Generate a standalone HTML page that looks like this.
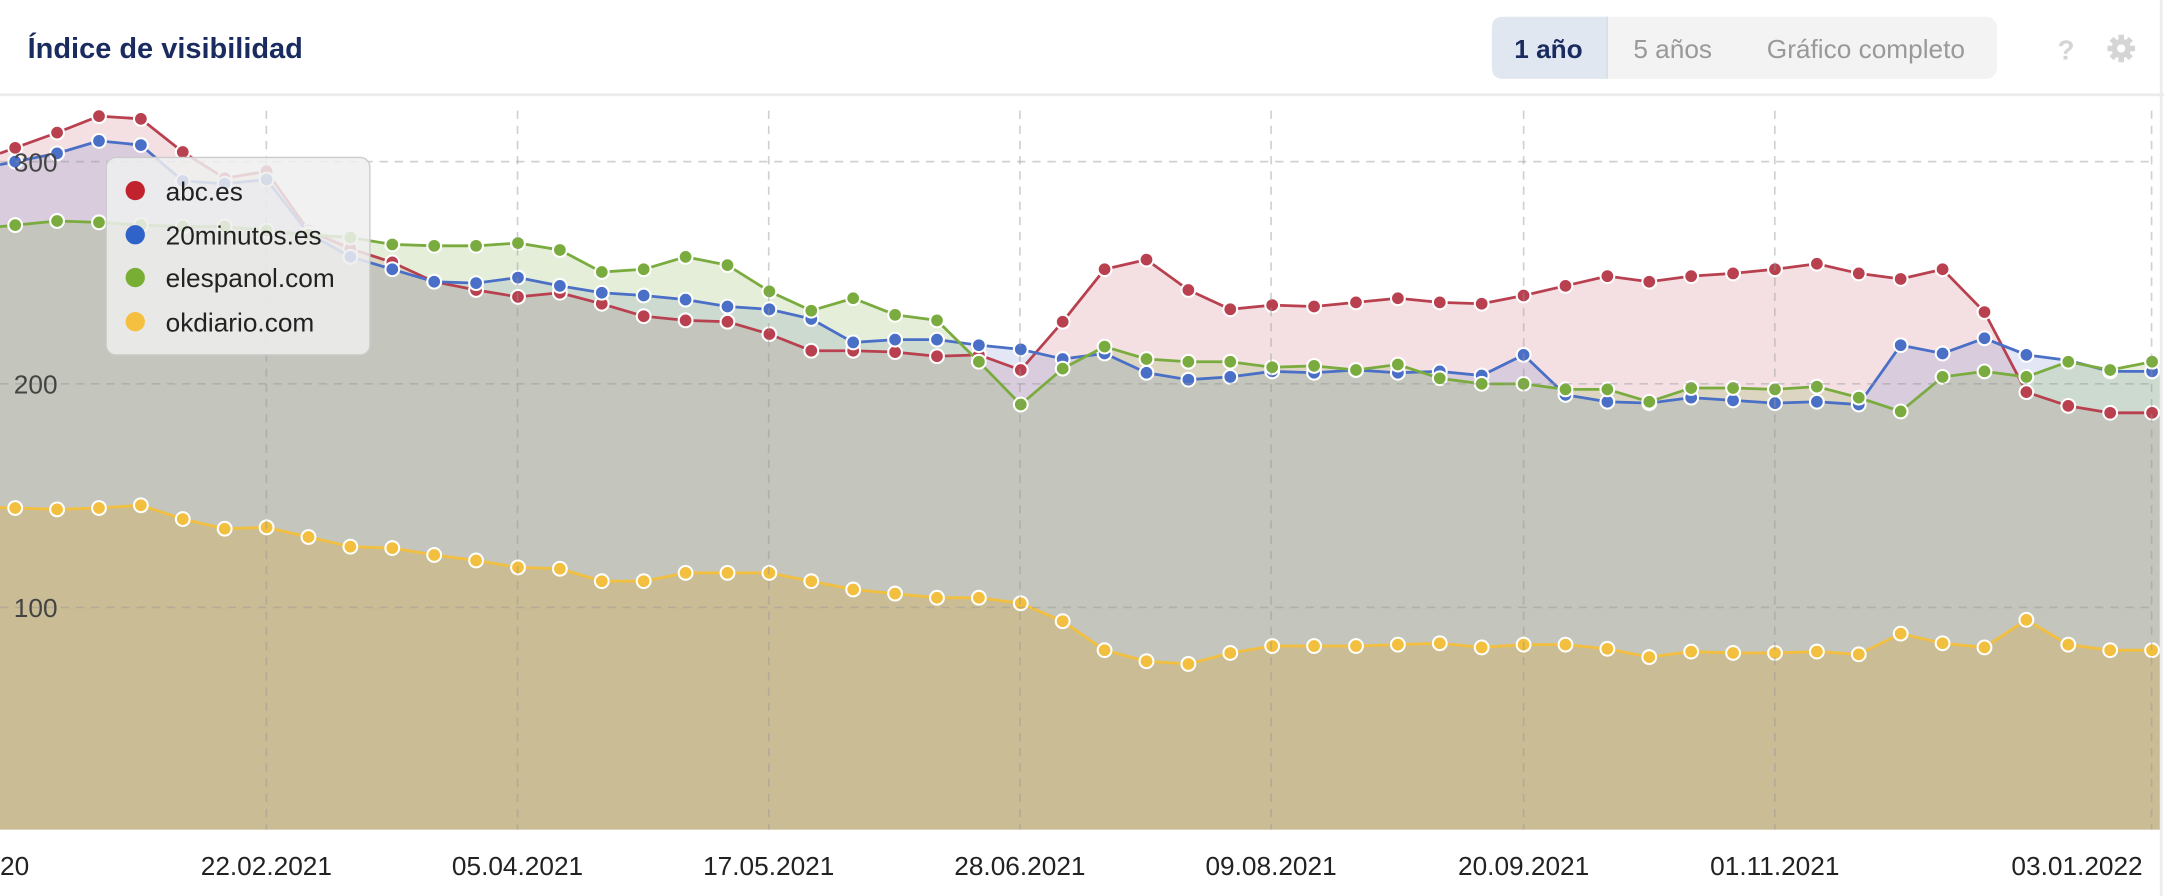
<!DOCTYPE html>
<html><head><meta charset="utf-8"><style>
html,body{margin:0;padding:0;background:#fff;}
svg{display:block;font-family:"Liberation Sans",sans-serif;}
</style></head><body>
<svg id="s" width="2164" height="896" viewBox="0 0 1568 649" xmlns="http://www.w3.org/2000/svg">
<rect width="1568" height="649" fill="#fff"/>
<text x="20" y="42" font-size="21" font-weight="bold" fill="#1a2b5f">Índice de visibilidad</text>
<rect x="1081" y="12" width="366" height="45" rx="8" fill="#f3f3f3"/>
<path d="M1089 12 H1164 V57 H1089 Q1081 57 1081 49 V20 Q1081 12 1089 12Z" fill="#e1e7f1"/>
<line x1="1164.5" y1="12" x2="1164.5" y2="57" stroke="#d5dae3"/>
<text x="1122" y="42" font-size="19" font-weight="bold" fill="#1a2b5f" text-anchor="middle">1 año</text>
<text x="1212" y="42" font-size="19" fill="#999" text-anchor="middle">5 años</text>
<text x="1352" y="42" font-size="19" fill="#999" text-anchor="middle">Gráfico completo</text>
<text x="1497" y="43" font-size="20" font-weight="bold" fill="#d5d5d5" text-anchor="middle">?</text>
<g transform="translate(1537,35)" fill="#d5d5d5"><circle r="7"/><g stroke="#d5d5d5" stroke-width="4"><line x1="0" y1="-10" x2="0" y2="10"/><line x1="-10" y1="0" x2="10" y2="0"/><line x1="-7" y1="-7" x2="7" y2="7"/><line x1="-7" y1="7" x2="7" y2="-7"/></g><circle r="3" fill="#fff"/></g>
<line x1="0" y1="68.5" x2="1568" y2="68.5" stroke="#ececec" stroke-width="2"/>
<g id="plot"></g>
<g id="grid" stroke="rgba(150,150,150,0.45)" stroke-width="1.2" stroke-dasharray="6,5"></g>
<line x1="1566" y1="0" x2="1566" y2="649" stroke="#ececec" stroke-width="2"/>
<g font-size="19" fill="#444">
<text x="10" y="124">300</text><text x="10" y="285">200</text><text x="10" y="447">100</text>
</g>
<g font-size="19" fill="#222" text-anchor="middle">
<text x="0" y="634" text-anchor="start">20</text>
<text x="193" y="634">22.02.2021</text><text x="375" y="634">05.04.2021</text><text x="557" y="634">17.05.2021</text>
<text x="739" y="634">28.06.2021</text><text x="921" y="634">09.08.2021</text><text x="1104" y="634">20.09.2021</text>
<text x="1286" y="634">01.11.2021</text><text x="1505" y="634">03.01.2022</text>
</g>
<g>
<rect x="77" y="114" width="191" height="143" rx="7" fill="rgba(238,238,238,0.85)" stroke="#ccc"/>
<circle cx="98" cy="138" r="7" fill="#c0232e"/><text x="120" y="145" font-size="19" fill="#222">abc.es</text>
<circle cx="98" cy="170" r="7" fill="#2f63c9"/><text x="120" y="177" font-size="19" fill="#222">20minutos.es</text>
<circle cx="98" cy="201" r="7" fill="#79ae34"/><text x="120" y="208" font-size="19" fill="#222">elespanol.com</text>
<circle cx="98" cy="233" r="7" fill="#f5c040"/><text x="120" y="240" font-size="19" fill="#222">okdiario.com</text>
</g>
</svg>
<script>
var NS="http://www.w3.org/2000/svg";
function el(p,t,a){var e=document.createElementNS(NS,t);for(var k in a)e.setAttribute(k,a[k]);p.appendChild(e);return e;}
var g=document.getElementById('grid'),p=document.getElementById('plot');
[117,278,440].forEach(function(y){el(g,'line',{x1:0,x2:1559,y1:y,y2:y});});
[193,375,557,739,921,1104,1286,1559].forEach(function(x){el(g,'line',{x1:x,x2:x,y1:80,y2:601});});
var R=[107,96,84,86,110,129,124,167,180,190,204,210,215,212,220,229,232,233,242,254,254,255,258,257,268,233,195,188,210,224,221,222,219,216,219,220,214,207,200,204,200,198,195,191,198,202,195,226,284,294,299,299];
var B=[117,111,102,105,131,133,130,169,186,195,204,205,201,207,212,214,217,222,224,231,248,246,246,250,253,260,256,270,275,273,269,270,268,270,269,272,257,286,291,292,288,290,292,291,293,250,256,245,257,261,269,269];
var G=[163,160,161,163,164,164,167,170,172,177,178,178,176,181,197,195,186,192,211,225,216,228,232,262,293,267,251,260,262,262,266,265,268,264,274,278,278,282,282,291,281,281,282,280,288,298,273,269,273,262,268,262];
var Y=[368,369,368,366,376,383,382,389,396,397,402,406,411,412,421,421,415,415,415,421,427,430,433,433,437,450,471,479,481,473,468,468,468,467,466,469,467,467,470,476,472,473,473,472,474,459,466,469,449,467,471,471];
var S=[[R,'#b8404f','rgba(184,60,80,0.16)'],[B,'#4a6fc6','rgba(74,100,190,0.16)'],[G,'#7aab3e','rgba(122,171,62,0.2)'],[Y,'#f2bf3e','rgba(215,170,60,0.3)']];
function X(i){return 11+30.36*i;}
S.forEach(function(s){var a=s[0];var y0=a[0]+(a[0]-a[1])*11/30.36;var d='M0 601 L0 '+y0.toFixed(1);a.forEach(function(y,i){d+=' L'+X(i).toFixed(1)+' '+y;});d+=' L1565 '+a[51]+' L1565 601Z';el(p,'path',{d:d,fill:s[2]});});
S.forEach(function(s){var a=s[0];var y0=a[0]+(a[0]-a[1])*11/30.36;var pts='0,'+y0.toFixed(1)+' '+a.map(function(y,i){return X(i).toFixed(1)+','+y;}).join(' ')+' 1565,'+a[51];el(p,'polyline',{points:pts,fill:'none',stroke:s[1],'stroke-width':2});
a.forEach(function(y,i){el(p,'circle',{cx:X(i),cy:y,r:5,fill:s[1],stroke:'#fff','stroke-width':1.5});});});
</script>
</body></html>
